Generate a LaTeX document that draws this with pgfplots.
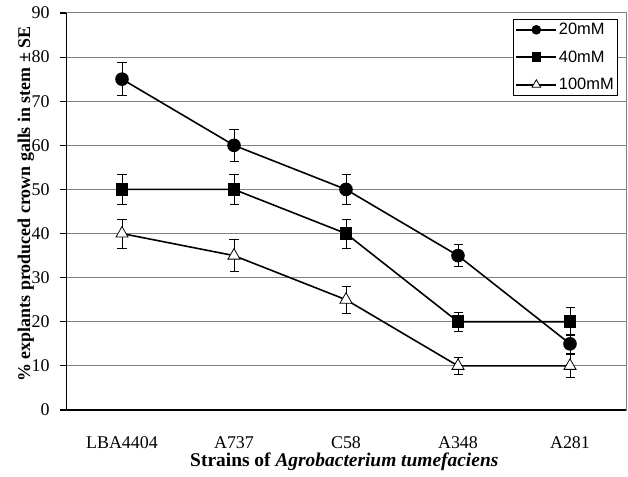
\documentclass[border=0pt]{standalone}
\usepackage{fontspec}
\setmainfont{Liberation Serif}
\newfontfamily\arial{Liberation Sans}
\usepackage{pgfplots}
\pgfplotsset{compat=1.18}
\begin{document}
\begin{tikzpicture}
\begin{axis}[
  at={(0,0)}, anchor=south west,
  scale only axis, width=560bp, height=397bp,
  xmin=-0.5, xmax=4.5, ymin=0, ymax=90,
  xtick={0,1,2,3,4},
  xticklabels={LBA4404,A737,C58,A348,A281},
  x tick style={draw=none},
  extra x ticks={-0.5,0.5,1.5,2.5,3.5,4.5},
  extra x tick labels={},
  extra x tick style={tick style={draw=black, line width=1.2pt}, major tick length=6bp, tick align=outside, grid=none},
  ytick={0,10,...,90},
  ymajorgrids,
  grid style={draw=black!50, line width=1pt},
  y tick style={draw=black, line width=1.2pt},
  major tick length=6bp,
  tick align=outside,
  axis line style={draw=black!50, line width=1pt},
  xtick pos=bottom, ytick pos=left,
  /pgf/number format/assume math mode=true,
  tick label style={font=\fontsize{18}{20}\selectfont},
  xticklabel style={yshift=-17bp},
  yticklabel style={xshift=-7bp},
  xlabel={Strains of \textit{Agrobacterium tumefaciens}},
  ylabel={\% explants produced crown galls in stem ± SE},
  xlabel style={font=\fontsize{19.5}{22}\selectfont\bfseries, at={(axis description cs:0.497,0)}, anchor=center, yshift=-52bp},
  ylabel style={font=\fontsize{18}{20}\selectfont\bfseries, at={(axis description cs:0,0.519)}, anchor=center, yshift=40bp},
  legend style={at={(rel axis cs:0.986,0.985)}, anchor=north east, draw=black, line width=0.8pt,
    font=\arial\fontsize{16.5}{18}\selectfont, inner sep=2bp, row sep=10.5bp,
    cells={anchor=west}},
  legend image code/.code={
    \draw[mark repeat=2, mark phase=2, #1] plot coordinates {(0cm,0cm) (0.7cm,0cm) (1.4cm,0cm)};
  },
  error bars/error bar style={line width=0.8pt, black},
  error bars/error mark options={rotate=90, mark size=4.5bp, line width=0.8pt, black},
]
\addplot[forget plot, black, line width=1.6pt, mark=*, mark size=6bp, mark options={fill=black},
  error bars/.cd, y dir=both, y explicit] coordinates {
  (0,75) +- (0,3.7)
  (1,60) +- (0,3.6)
  (2,50) +- (0,3.3)
  (3,35) +- (0,2.5)
  (4,15) +- (0,2.2)
};
\addplot[forget plot, black, line width=1.6pt, mark=square*, mark size=5.5bp, mark options={fill=black},
  error bars/.cd, y dir=both, y explicit] coordinates {
  (0,50) +- (0,3.5)
  (1,50) +- (0,3.5)
  (2,40) +- (0,3.3)
  (3,20) +- (0,2.2)
  (4,20) +- (0,3.2)
};
\addplot[forget plot, black, line width=1.6pt, mark=triangle*, mark size=7bp, mark options={fill=white, line width=0.8pt},
  error bars/.cd, y dir=both, y explicit] coordinates {
  (0,40) +- (0,3.3)
  (1,35) +- (0,3.6)
  (2,25) +- (0,3.0)
  (3,10) +- (0,1.9)
  (4,10) +- (0,2.7)
};
\addlegendimage{black, line width=1.6pt, mark=*, mark size=4bp, mark options={fill=black}}
\addlegendentry{20mM}
\addlegendimage{black, line width=1.6pt, mark=square*, mark size=4bp, mark options={fill=black}}
\addlegendentry{40mM}
\addlegendimage{black, line width=1.6pt, mark=triangle*, mark size=5bp, mark options={fill=white, line width=0.8pt}}
\addlegendentry{100mM}
\draw[black, line width=1.4pt] (rel axis cs:0,1) -- (rel axis cs:0,0) -- (rel axis cs:1,0);
\end{axis}
\pgfresetboundingbox
\path (-66bp,-67bp) rectangle (562bp,410bp);
\end{tikzpicture}
\end{document}
